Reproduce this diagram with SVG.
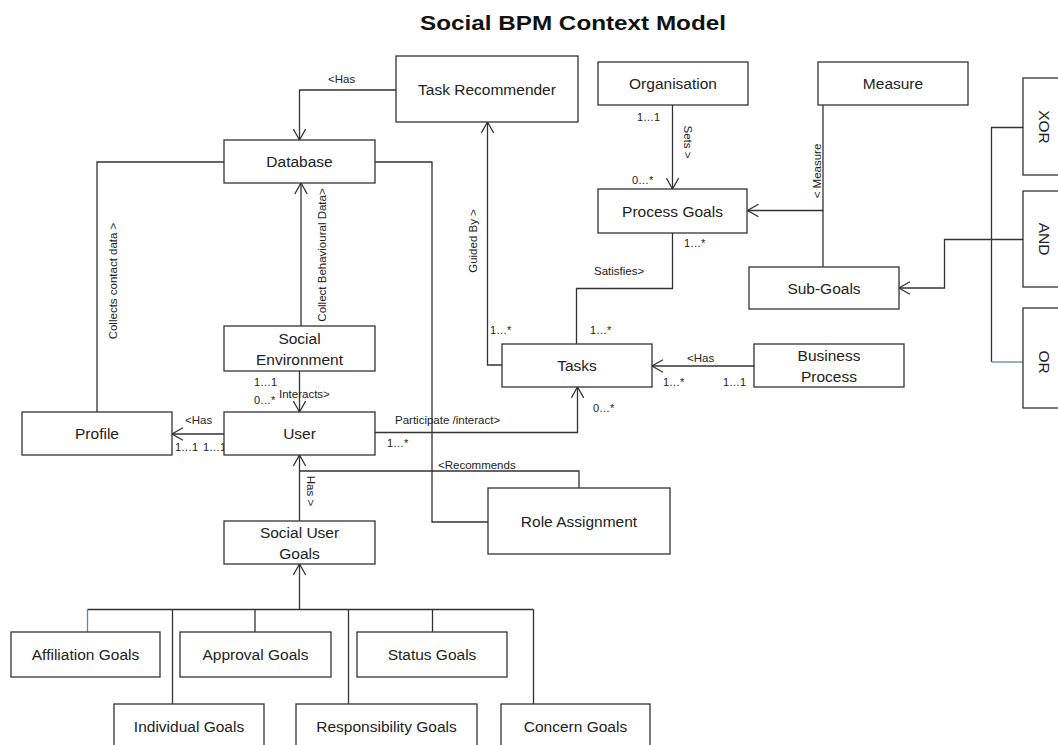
<svg xmlns="http://www.w3.org/2000/svg" width="1058" height="745" viewBox="0 0 1058 745">
<defs>
<style>
.box{fill:#fff;stroke:#333;stroke-width:1.3}
.t{font-family:"Liberation Sans",Arial,sans-serif;font-size:15.5px;fill:#222;text-anchor:middle;dominant-baseline:central}
.s{font-family:"Liberation Sans",Arial,sans-serif;font-size:11.5px;fill:#222;dominant-baseline:central}
.m{font-family:"Liberation Sans",Arial,sans-serif;font-size:11px;fill:#222;dominant-baseline:central}
.r{text-anchor:middle}
.ln{fill:none;stroke:#333;stroke-width:1.3}
.blue{fill:none;stroke:#5b86b0;stroke-width:1.3}
.title{font-family:"Liberation Sans",Arial,sans-serif;font-size:20px;font-weight:bold;fill:#111;text-anchor:middle}
</style>
<marker id="arr" markerUnits="userSpaceOnUse" viewBox="0 0 12 14" refX="11.5" refY="7" markerWidth="12" markerHeight="14" orient="auto">
<path d="M0.5,0.8 L11.5,7 L0.5,13.2" fill="none" stroke="#333" stroke-width="1.3"/>
</marker>
</defs>
<rect width="1058" height="745" fill="#fff"/>
<text class="title" x="573" y="30" textLength="306" lengthAdjust="spacingAndGlyphs">Social BPM Context Model</text>

<g id="connectors">
<polyline class="ln" points="396,90 299.5,90 299.5,140" marker-end="url(#arr)"/>
<polyline class="ln" points="224,162 97,162 97,412"/>
<polyline class="ln" points="375,162 432,162 432,522 488,522"/>
<line class="ln" x1="301" y1="326" x2="301" y2="183" marker-end="url(#arr)"/>
<line class="ln" x1="299.5" y1="371" x2="299.5" y2="412" marker-end="url(#arr)"/>
<line class="ln" x1="224" y1="434" x2="172" y2="434" marker-end="url(#arr)"/>
<polyline class="ln" points="375,432.5 577.5,432.5 577.5,387" marker-end="url(#arr)"/>
<polyline class="ln" points="579,488 579,471 299.5,471"/>
<line class="ln" x1="299.5" y1="521" x2="299.5" y2="455" marker-end="url(#arr)"/>
<line class="ln" x1="299.5" y1="609.5" x2="299.5" y2="564" marker-end="url(#arr)"/>
<polyline class="ln" points="87.5,609.5 533.5,609.5"/>
<line class="blue" x1="87.5" y1="609.5" x2="87.5" y2="632"/>
<line class="ln" x1="172.5" y1="609.5" x2="172.5" y2="704"/>
<line class="ln" x1="255" y1="609.5" x2="255" y2="632"/>
<line class="ln" x1="348.5" y1="609.5" x2="348.5" y2="704"/>
<line class="ln" x1="432.5" y1="609.5" x2="432.5" y2="632"/>
<line class="ln" x1="533.5" y1="609.5" x2="533.5" y2="704"/>
<polyline class="ln" points="502,365 487.5,365 487.5,122" marker-end="url(#arr)"/>
<line class="ln" x1="672.5" y1="105" x2="672.5" y2="189" marker-end="url(#arr)"/>
<polyline class="ln" points="672.5,233 672.5,288.5 576.5,288.5 576.5,344"/>
<polyline class="ln" points="823,105 823,210.5 747.5,210.5" marker-end="url(#arr)"/>
<line class="ln" x1="823" y1="210.5" x2="823" y2="267"/>
<line class="ln" x1="754" y1="366" x2="652" y2="366" marker-end="url(#arr)"/>
<polyline class="ln" points="1023,239.5 944.5,239.5 944.5,288 899,288" marker-end="url(#arr)"/>
<polyline class="ln" points="1023,127.5 991.5,127.5 991.5,362"/>
<line class="blue" x1="991.5" y1="362" x2="1023" y2="362"/>
</g>

<g id="labels">
<text class="s" x="328" y="79">&lt;Has</text>
<text class="s r" transform="translate(113,281) rotate(-90)">Collects contact data &gt;</text>
<text class="s r" transform="translate(322,255) rotate(-90)">Collect Behavioural Data&gt;</text>
<text class="m" x="254" y="382">1…1</text>
<text class="m" x="254" y="400">0…*</text>
<text class="s" x="279" y="394">Interacts&gt;</text>
<text class="s" x="185" y="420">&lt;Has</text>
<text class="m" x="175" y="447">1…1</text>
<text class="m" x="203" y="447">1…1</text>
<text class="s" x="395" y="420">Participate /interact&gt;</text>
<text class="m" x="387" y="443">1…*</text>
<text class="m" x="593" y="408">0…*</text>
<text class="s" x="438" y="465">&lt;Recommends</text>
<text class="s r" transform="translate(310.5,491) rotate(90)">Has &gt;</text>
<text class="s r" transform="translate(473,241) rotate(-90)">Guided By &gt;</text>
<text class="m" x="490" y="330">1…*</text>
<text class="m" x="590" y="330">1…*</text>
<text class="m" x="637" y="117">1…1</text>
<text class="m" x="632" y="180">0…*</text>
<text class="s r" transform="translate(688,142) rotate(90)">Sets &gt;</text>
<text class="m" x="684" y="243">1…*</text>
<text class="s" x="594" y="271">Satisfies&gt;</text>
<text class="s r" transform="translate(817,171) rotate(-90)">&lt; Measure</text>
<text class="s" x="687" y="358">&lt;Has</text>
<text class="m" x="663" y="382">1…*</text>
<text class="m" x="723" y="382">1…1</text>
</g>

<g id="task-recommender"><rect class="box" x="396" y="56" width="182" height="66"/><text class="t" x="487" y="89">Task Recommender</text></g>
<g id="organisation"><rect class="box" x="598" y="62" width="150" height="43"/><text class="t" x="673" y="83.5">Organisation</text></g>
<g id="measure"><rect class="box" x="818" y="62" width="150" height="43"/><text class="t" x="893" y="83.5">Measure</text></g>
<g id="database"><rect class="box" x="224" y="140" width="151" height="43"/><text class="t" x="299.5" y="161.5">Database</text></g>
<g id="process-goals"><rect class="box" x="598" y="189" width="149" height="44"/><text class="t" x="672.5" y="211">Process Goals</text></g>
<g id="sub-goals"><rect class="box" x="749" y="267" width="150" height="42"/><text class="t" x="824" y="288">Sub-Goals</text></g>
<g id="social-environment"><rect class="box" x="224" y="326" width="151" height="45"/><text class="t" x="299.5" y="338">Social</text><text class="t" x="299.5" y="359">Environment</text></g>
<g id="tasks"><rect class="box" x="502" y="344" width="150" height="43"/><text class="t" x="577" y="365.5">Tasks</text></g>
<g id="business-process"><rect class="box" x="754" y="344" width="150" height="43"/><text class="t" x="829" y="355">Business</text><text class="t" x="829" y="376">Process</text></g>
<g id="profile"><rect class="box" x="22" y="412" width="150" height="43"/><text class="t" x="97" y="433.5">Profile</text></g>
<g id="user"><rect class="box" x="224" y="412" width="151" height="43"/><text class="t" x="299.5" y="433.5">User</text></g>
<g id="role-assignment"><rect class="box" x="488" y="488" width="182" height="66"/><text class="t" x="579" y="521">Role Assignment</text></g>
<g id="social-user-goals"><rect class="box" x="224" y="521" width="151" height="43"/><text class="t" x="299.5" y="532">Social User</text><text class="t" x="299.5" y="553">Goals</text></g>
<g id="affiliation-goals"><rect class="box" x="11" y="632" width="149" height="45"/><text class="t" x="85.5" y="654.5">Affiliation Goals</text></g>
<g id="approval-goals"><rect class="box" x="180" y="632" width="151" height="45"/><text class="t" x="255.5" y="654.5">Approval  Goals</text></g>
<g id="status-goals"><rect class="box" x="357" y="632" width="150" height="45"/><text class="t" x="432" y="654.5">Status Goals</text></g>
<g id="individual-goals"><rect class="box" x="114" y="704" width="150" height="50"/><text class="t" x="189" y="726">Individual Goals</text></g>
<g id="responsibility-goals"><rect class="box" x="296" y="704" width="181" height="50"/><text class="t" x="386.5" y="726">Responsibility Goals</text></g>
<g id="concern-goals"><rect class="box" x="501" y="704" width="149" height="50"/><text class="t" x="575.5" y="726">Concern Goals</text></g>
<g id="xor"><rect class="box" x="1023" y="78" width="60" height="97"/><text class="t" transform="translate(1044,127) rotate(90)" x="0" y="0">XOR</text></g>
<g id="and"><rect class="box" x="1023" y="191" width="60" height="96"/><text class="t" transform="translate(1044,239) rotate(90)" x="0" y="0">AND</text></g>
<g id="or"><rect class="box" x="1023" y="308" width="60" height="100"/><text class="t" transform="translate(1044,362) rotate(90)" x="0" y="0">OR</text></g>
</svg>
